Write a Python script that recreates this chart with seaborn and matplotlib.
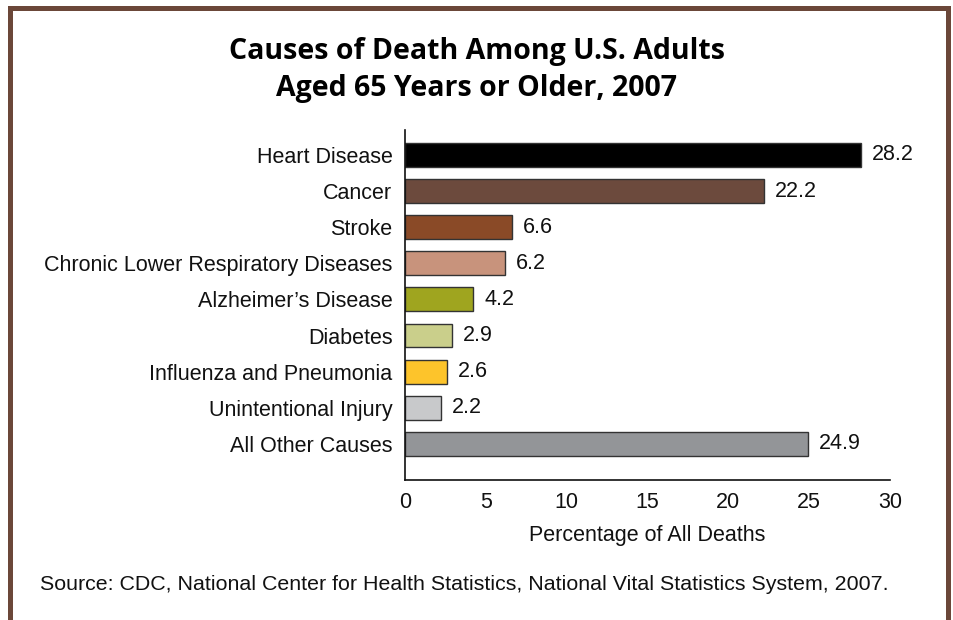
import matplotlib
matplotlib.use("Agg")
import matplotlib.pyplot as plt
import seaborn as sns
import pandas as pd
from matplotlib.patches import Rectangle

# data
causes = ["Heart Disease", "Cancer", "Stroke", "Chronic Lower Respiratory Diseases",
          "Alzheimer\u2019s Disease", "Diabetes", "Influenza and Pneumonia",
          "Unintentional Injury", "All Other Causes"]
percent = [28.2, 22.2, 6.6, 6.2, 4.2, 2.9, 2.6, 2.2, 24.9]
bar_colors = ["#000000", "#6c4a3d", "#8a4a27", "#c8937c", "#9fa51f",
              "#cacf8b", "#fdc42b", "#c8c9cb", "#939598"]
x_ticks = [0, 5, 10, 15, 20, 25, 30]

sns.set_style("white")
plt.rcParams['font.family'] = ['Liberation Sans', 'DejaVu Sans']

df = pd.DataFrame({"Cause": causes, "Percent": percent})

fig = plt.figure(figsize=(9.54, 6.2), dpi=100)
ax = fig.add_axes([405 / 954, 1 - 480 / 620, 485 / 954, 350 / 620])

sns.barplot(data=df, y="Cause", x="Percent", hue="Cause", palette=bar_colors,
            order=causes, hue_order=causes, legend=False, orient="h",
            width=0.66, saturation=1, edgecolor="#333333", linewidth=1, ax=ax)

for c in ax.containers:
    ax.bar_label(c, fmt="%.1f", padding=8, fontsize=15.5, color="#111111")

ax.set_xlim(0, 30)
ax.set_ylim(len(causes) - 1 + 1.0, -0.69)
ax.set_xticks(x_ticks)
ax.set_xticklabels([str(t) for t in x_ticks], fontsize=15.5)
ax.tick_params(axis="x", direction="in", length=9, width=1.2, pad=9, colors="#111111")
ax.tick_params(axis="y", length=0, pad=9, labelsize=15.5, colors="#111111")
ax.set_ylabel("")
ax.set_xlabel("Percentage of All Deaths", fontsize=15.5, labelpad=8, color="#111111")
sns.despine(ax=ax, top=True, right=True)
for s in ("left", "bottom"):
    ax.spines[s].set_color("#111111")
    ax.spines[s].set_linewidth(1.2)

fig.text(477 / 954, 1 - 70 / 620,
         "Causes of Death Among U.S. Adults\nAged 65 Years or Older, 2007",
         ha="center", va="center", fontsize=20.5, fontweight="bold", color="#000000",
         family=["Open Sans", "DejaVu Sans"], linespacing=1.4)

fig.text(40 / 954, 1 - 585 / 620,
         "Source: CDC, National Center for Health Statistics, National Vital Statistics System, 2007.",
         ha="left", va="center", fontsize=15.4, color="#111111")

# brown frame (open at the bottom)
border = "#6b4739"
fig.add_artist(Rectangle((8 / 954, 0), 5 / 954, 1 - 6 / 620, transform=fig.transFigure,
                         color=border, lw=0))
fig.add_artist(Rectangle((946 / 954, 0), 5 / 954, 1 - 6 / 620, transform=fig.transFigure,
                         color=border, lw=0))
fig.add_artist(Rectangle((8 / 954, 1 - 11 / 620), 943 / 954, 5 / 620,
                         transform=fig.transFigure, color=border, lw=0))

fig.savefig("out.png", dpi=100, facecolor="white")
